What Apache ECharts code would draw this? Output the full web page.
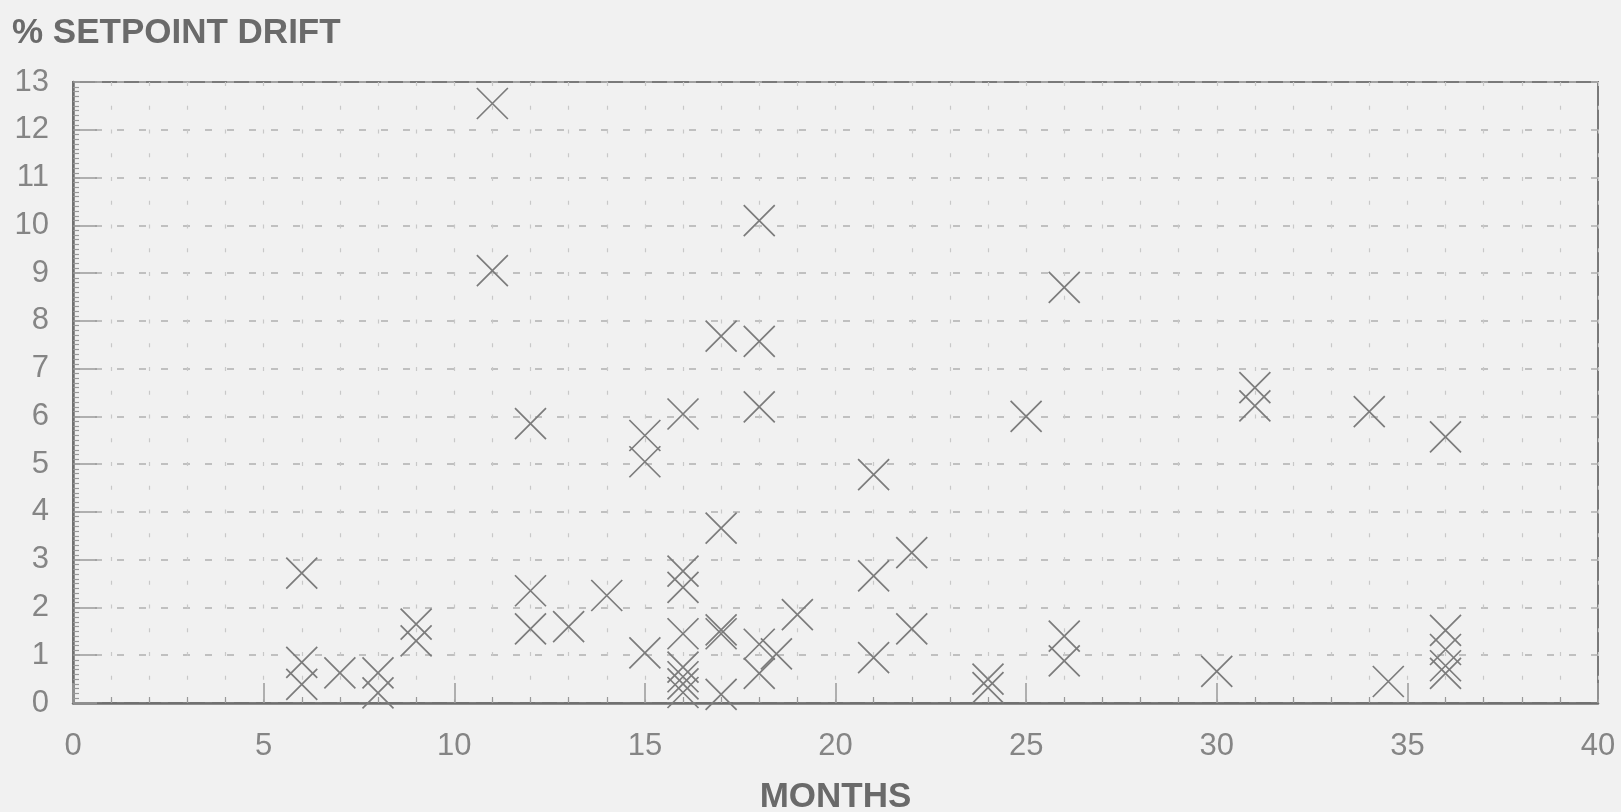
<!DOCTYPE html>
<html>
<head>
<meta charset="utf-8">
<script src="https://cdn.jsdelivr.net/npm/echarts@6/dist/echarts.min.js"></script>
<style>
html,body{margin:0;padding:0;background:#f1f1f1;}
#chart{width:1621px;height:812px;}
</style>
</head>
<body>
<div id="chart"></div>
<script>
const months = [6,6,6,7,8,8,9,9,11,11,12,12,12,13,14,15,15,15,16,16,16,16,16,16,16,16,17,17,17,17,17,18,18,18,18,18.45,18,19,21,21,21,22,22,24,24,25,26,26,26,30,31,31,34,34.5,36,36,36,36,36];
const drift = [2.72,0.85,0.39,0.63,0.63,0.21,1.65,1.3,12.55,9.05,5.85,2.35,1.55,1.6,2.25,5.6,5.05,1.05,6.05,2.76,2.42,1.45,0.75,0.55,0.4,0.22,7.68,3.66,1.53,1.45,0.18,10.1,7.57,6.2,1.23,1.03,0.62,1.85,4.78,2.66,0.95,3.15,1.55,0.5,0.32,6.0,8.7,1.4,0.88,0.66,6.6,6.22,6.1,0.45,5.57,1.52,1.12,0.78,0.62];
const titleText = '% SETPOINT DRIFT';
const xName = 'MONTHS';

const points = months.map((m, i) => [m, drift[i]]);

const chart = echarts.init(document.getElementById('chart'), null, {renderer: 'canvas'});
chart.setOption({
  backgroundColor: '#f1f1f1',
  animation: false,
  title: {
    text: titleText,
    left: 7,
    top: 11,
    textStyle: {fontFamily: 'Liberation Sans, Arial, sans-serif', fontSize: 35, fontWeight: 'bold', color: '#6a6a6a'}
  },
  grid: {
    left: 73, right: 23, top: 82, bottom: 109,
    containLabel: false,
    outerBoundsMode: 'none',
    show: true, borderColor: '#7a7a7a', borderWidth: 2, backgroundColor: 'transparent'
  },
  xAxis: {
    type: 'value', min: 0, max: 40, interval: 5,
    name: xName, nameLocation: 'middle', nameGap: 77,
    nameTextStyle: {fontFamily: 'Liberation Sans, Arial, sans-serif', fontSize: 35, fontWeight: 'bold', color: '#6a6a6a'},
    axisLine: {show: true, lineStyle: {color: '#6f6f6f', width: 2.5}},
    axisTick: {show: true, inside: true, length: 20, lineStyle: {color: '#999', width: 1.5}},
    minorTick: {show: true, splitNumber: 5, length: 6, lineStyle: {color: '#999', width: 1.2}},
    axisLabel: {fontFamily: 'Liberation Sans, Arial, sans-serif', fontSize: 31, color: '#858585', margin: 28},
    splitLine: {show: true, lineStyle: {color: '#c8c8c8', width: 1.2, type: [4, 19.75]}},
    minorSplitLine: {show: true, lineStyle: {color: '#c8c8c8', width: 1.2, type: [4, 19.75]}}
  },
  yAxis: {
    type: 'value', min: 0, max: 13, interval: 1,
    axisLine: {show: true, lineStyle: {color: '#6f6f6f', width: 2.5}},
    axisTick: {show: true, inside: true, length: 24, lineStyle: {color: '#999', width: 1.5}},
    minorTick: {show: true, splitNumber: 10, length: 6, lineStyle: {color: '#999', width: 1.2}},
    axisLabel: {fontFamily: 'Liberation Sans, Arial, sans-serif', fontSize: 31, color: '#858585', margin: 24},
    splitLine: {show: true, lineStyle: {color: '#b0b0b0', width: 1.5, type: [7, 15]}}
  },
  series: [{
    type: 'scatter',
    data: points,
    symbol: 'path://M0,0L100,100M100,0L0,100',
    symbolSize: 31,
    itemStyle: {color: 'rgba(0,0,0,0)', borderColor: '#7c7c7c', borderWidth: 1.7, opacity: 1}
  }]
});
</script>
</body>
</html>
